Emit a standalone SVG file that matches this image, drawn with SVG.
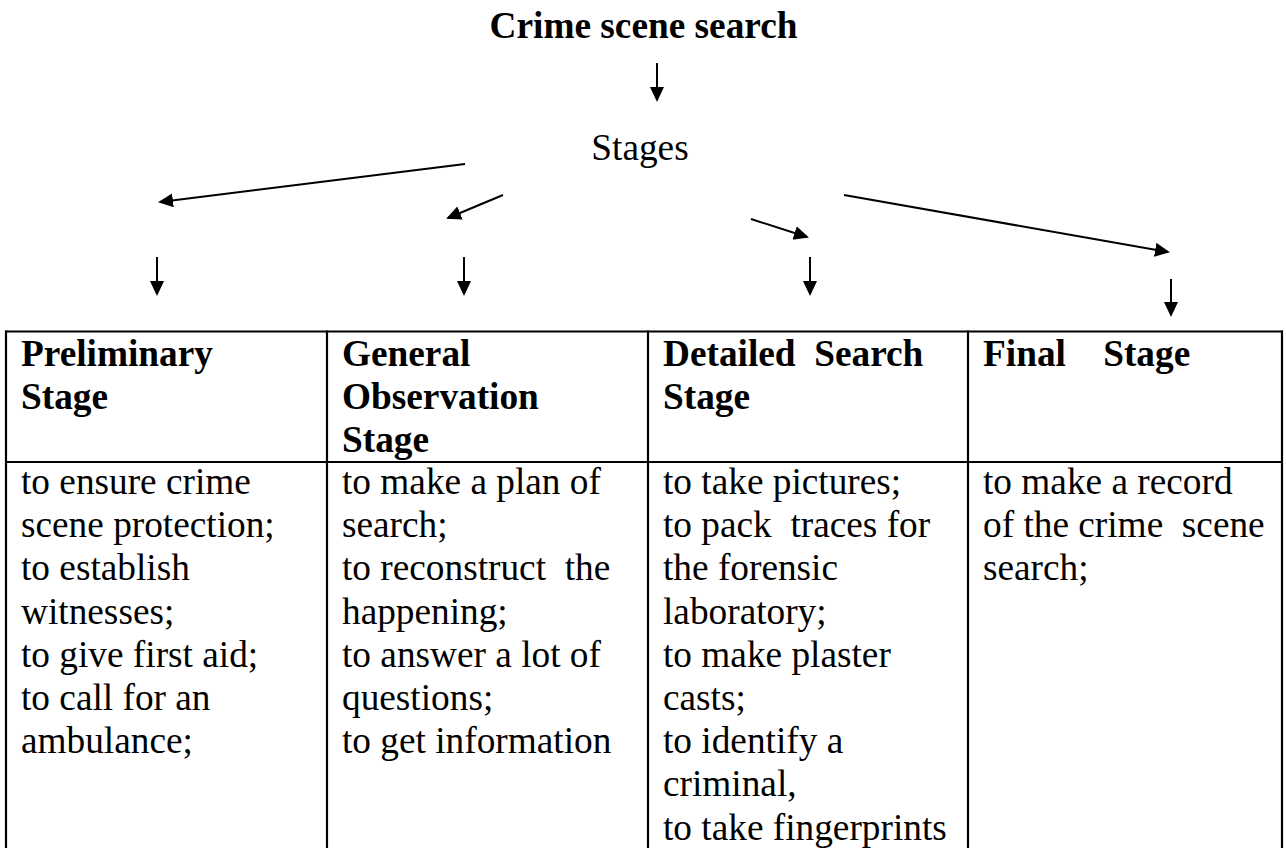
<svg xmlns="http://www.w3.org/2000/svg" width="1286" height="848" viewBox="0 0 1286 848">
  <style>
    text { font-family: "Liberation Serif", "Times New Roman", serif; font-size: 37.3px; fill: #000; white-space: pre; }
    .b { font-weight: bold; }
    .arr { stroke: #000; stroke-width: 2; fill: none; marker-end: url(#ah); }
    .tl { stroke: #000; stroke-width: 2.2; fill: none; }
  </style>
  <defs>
    <marker id="ah" markerUnits="userSpaceOnUse" markerWidth="16" markerHeight="16" refX="13" refY="7" orient="auto">
      <path d="M0,0 L15,7 L0,14 Z" fill="#000"/>
    </marker>
  </defs>
  <rect width="1286" height="848" fill="#fff"/>

  <g id="title">
    <text class="b" x="643.5" y="38" text-anchor="middle">Crime scene search</text>
  </g>
  <g id="stages">
    <text x="640" y="160" text-anchor="middle">Stages</text>
  </g>

  <g id="connectors">
    <line class="arr" x1="657" y1="63" x2="657" y2="100"/>
    <line class="arr" x1="465" y1="164" x2="160" y2="202"/>
    <line class="arr" x1="503" y1="195" x2="448" y2="218"/>
    <line class="arr" x1="751" y1="219" x2="807" y2="237"/>
    <line class="arr" x1="844" y1="195" x2="1168" y2="252"/>
    <line class="arr" x1="157" y1="257" x2="157" y2="294"/>
    <line class="arr" x1="464" y1="257" x2="464" y2="294"/>
    <line class="arr" x1="810" y1="257" x2="810" y2="294"/>
    <line class="arr" x1="1171" y1="279" x2="1171" y2="315"/>
  </g>

  <g id="table">
    <line class="tl" x1="5" y1="331.5" x2="1283" y2="331.5"/>
    <line class="tl" x1="5" y1="462" x2="1283" y2="462"/>
    <line class="tl" x1="6" y1="330.5" x2="6" y2="850"/>
    <line class="tl" x1="327" y1="330.5" x2="327" y2="850"/>
    <line class="tl" x1="648" y1="330.5" x2="648" y2="850"/>
    <line class="tl" x1="968" y1="330.5" x2="968" y2="850"/>
    <line class="tl" x1="1282" y1="330.5" x2="1282" y2="850"/>
  </g>

  <g id="col-preliminary">
    <text class="b" x="21" y="366">Preliminary</text>
    <text class="b" x="21" y="409">Stage</text>
    <text x="21" y="494">to ensure crime</text>
    <text x="21" y="537.2">scene protection;</text>
    <text x="21" y="580.4">to establish</text>
    <text x="21" y="623.6">witnesses;</text>
    <text x="21" y="666.8">to give first aid;</text>
    <text x="21" y="710">to call for an</text>
    <text x="21" y="753.2">ambulance;</text>
  </g>

  <g id="col-general">
    <text class="b" x="342" y="366">General</text>
    <text class="b" x="342" y="409">Observation</text>
    <text class="b" x="342" y="452">Stage</text>
    <text x="342" y="494">to make a plan of</text>
    <text x="342" y="537.2">search;</text>
    <text x="342" y="580.4">to reconstruct  the</text>
    <text x="342" y="623.6">happening;</text>
    <text x="342" y="666.8">to answer a lot of</text>
    <text x="342" y="710">questions;</text>
    <text x="342" y="753.2">to get information</text>
  </g>

  <g id="col-detailed">
    <text class="b" x="663" y="366">Detailed  Search</text>
    <text class="b" x="663" y="409">Stage</text>
    <text x="663" y="494">to take pictures;</text>
    <text x="663" y="537.2">to pack  traces for</text>
    <text x="663" y="580.4">the forensic</text>
    <text x="663" y="623.6">laboratory;</text>
    <text x="663" y="666.8">to make plaster</text>
    <text x="663" y="710">casts;</text>
    <text x="663" y="753.2">to identify a</text>
    <text x="663" y="796.4">criminal,</text>
    <text x="663" y="839.6">to take fingerprints</text>
  </g>

  <g id="col-final">
    <text class="b" x="983" y="366">Final    Stage</text>
    <text x="983" y="494">to make a record</text>
    <text x="983" y="537.2">of the crime  scene</text>
    <text x="983" y="580.4">search;</text>
  </g>
</svg>
